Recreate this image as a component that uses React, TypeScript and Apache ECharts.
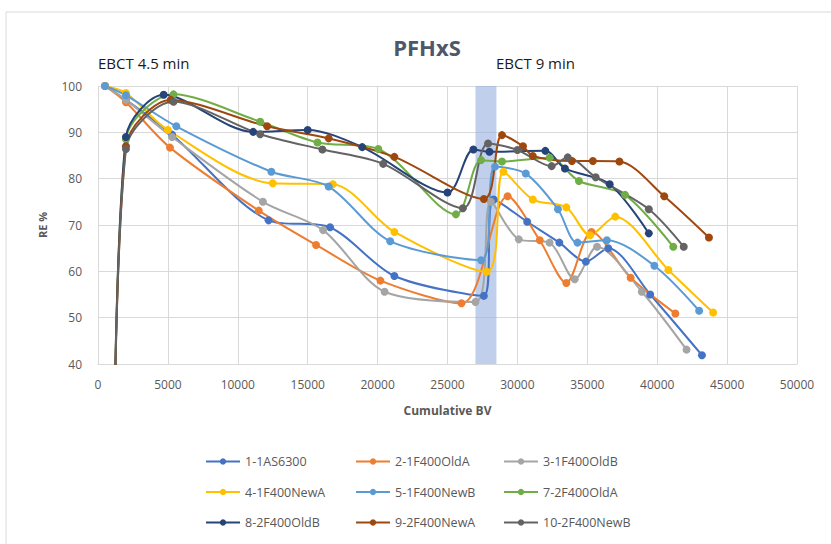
import React, { useEffect, useRef } from "react";
import * as echarts from "echarts";

const seriesNames = [
  "1-1AS6300",
  "2-1F400OldA",
  "3-1F400OldB",
  "4-1F400NewA",
  "5-1F400NewB",
  "7-2F400OldA",
  "8-2F400OldB",
  "9-2F400NewA",
  "10-2F400NewB",
];

const colors = [
  "#4472C4",
  "#ED7D31",
  "#A5A5A5",
  "#FFC000",
  "#5B9BD5",
  "#70AD47",
  "#264478",
  "#9E480E",
  "#636363",
];

const s1 = [[500,100],[2000,97],[5300,89.5],[12200,71],[16600,69.5],[21200,59],[27600,54.7],[28300,75.5],[30700,70.7],[33000,66.2],[34900,62.1],[36500,65],[39500,55],[43200,41.9]];
const s2 = [[500,100],[2000,96.5],[5150,86.7],[11500,73.1],[15600,65.7],[20200,58],[26000,53.1],[29300,76.2],[31600,66.7],[33500,57.5],[35300,68.5],[38100,58.6],[41300,50.9]];
const s3 = [[500,100],[2000,97],[5300,89],[11800,75],[16100,68.9],[20500,55.6],[27000,53.4],[28100,75],[30100,66.9],[32300,66.2],[34100,58.3],[35700,65.3],[38900,55.6],[42100,43.1]];
const s4 = [[500,100],[2000,98.5],[5000,90.5],[12500,79],[16800,78.8],[21200,68.5],[27800,59.9],[29000,81.5],[31100,75.5],[33500,73.8],[35200,67.8],[37000,71.8],[40800,60.3],[44000,51.1]];
const s5 = [[500,100],[2000,98],[5600,91.3],[12400,81.5],[16500,78.3],[20900,66.5],[27400,62.4],[28400,82.6],[30600,81.1],[32900,73.4],[34300,66.2],[36400,66.7],[39800,61.2],[43000,51.5]];
const s7 = [[1100,0],[2000,88.5],[5400,98.2],[11600,92.3],[15700,87.8],[20050,86.4],[25600,72.3],[27400,84],[28900,83.7],[32300,84.5],[34400,79.5],[37700,76.5],[41150,65.3]];
const s8 = [[1100,0],[2000,89],[4700,98.1],[11100,90.1],[15000,90.5],[18900,86.8],[25000,77],[26850,86.3],[28000,85.8],[32000,86],[33400,82.2],[36600,78.8],[39400,68.2]];
const s9 = [[1100,0],[2000,87],[5200,97],[12100,91.3],[16500,88.7],[21200,84.7],[27600,75.6],[28900,89.4],[30400,87],[31100,84.9],[33900,83.8],[35400,83.8],[37300,83.7],[40500,76.2],[43700,67.3]];
const s10 = [[1100,0],[2000,86.4],[5400,96.6],[11600,89.6],[16050,86.3],[20400,83.2],[26100,73.6],[27900,87.6],[30000,86.2],[32450,82.7],[33600,84.6],[35600,80.3],[39400,73.4],[41900,65.3]];

const seriesData = [s1, s2, s3, s4, s5, s7, s8, s9, s10];

const bandRange = [27000, 28500];

const xTicks = { min: 0, max: 50000, interval: 5000 };
const yTicks = { min: 40, max: 100, interval: 10 };

const legendColumns = [
  [0, 3, 6],
  [1, 4, 7],
  [2, 5, 8],
];

export default function App() {
  const ref = useRef<HTMLDivElement>(null);

  useEffect(() => {
    if (!ref.current) return;
    const chart = echarts.init(ref.current, null, { renderer: "svg" });
    const font = "'Open Sans', 'Liberation Sans', sans-serif";
    const legendLefts = [205, 355, 503];
    const option: any = {
      animation: false,
      backgroundColor: "#ffffff",
      textStyle: { fontFamily: font },
      title: {
        text: "PFHxS",
        left: 422,
        top: 31,
        textAlign: "center",
        textStyle: { fontSize: 22, fontWeight: "bold", color: "#4d5868", fontFamily: font },
      },
      graphic: [
        {
          type: "rect",
          shape: { x: 6, y: 12, width: 840, height: 560 },
          style: { fill: "none", stroke: "#d9d9d9", lineWidth: 1 },
          silent: true,
        },
        {
          type: "text",
          left: 98,
          top: 55,
          style: { text: "EBCT 4.5 min", fontSize: 15, fill: "#1a1a1a", fontFamily: font },
        },
        {
          type: "text",
          left: 496,
          top: 55,
          style: { text: "EBCT 9 min", fontSize: 15, fill: "#1a1a1a", fontFamily: font },
        },
      ],
      legend: legendColumns.map((col, i) => ({
        orient: "vertical",
        left: legendLefts[i],
        top: 455,
        padding: 0,
        itemGap: 17.5,
        itemWidth: 34,
        itemHeight: 8,
        data: col.map((k) => seriesNames[k]),
        textStyle: { fontSize: 12.5, color: "#595959", fontFamily: font },
      })),
      grid: { left: 98, right: 34, top: 86, bottom: 180, containLabel: false },
      xAxis: {
        type: "value",
        min: xTicks.min,
        max: xTicks.max,
        interval: xTicks.interval,
        name: "Cumulative BV",
        nameLocation: "middle",
        nameGap: 40,
        nameTextStyle: { fontSize: 12, fontWeight: "bold", color: "#595959" },
        axisLine: { show: true, lineStyle: { color: "#d9d9d9" } },
        axisTick: { show: false },
        axisLabel: { fontSize: 12, color: "#595959", margin: 14, formatter: (v: number) => String(v) },
        splitLine: { show: true, lineStyle: { color: "#d9d9d9" } },
      },
      yAxis: {
        type: "value",
        min: yTicks.min,
        max: yTicks.max,
        interval: yTicks.interval,
        name: "RE %",
        nameLocation: "middle",
        nameGap: 50,
        nameRotate: 90,
        nameTextStyle: { fontSize: 11, fontWeight: "bold", color: "#595959" },
        axisLine: { show: true, lineStyle: { color: "#d9d9d9" } },
        axisTick: { show: false },
        axisLabel: { fontSize: 12, color: "#595959", margin: 16 },
        splitLine: { show: true, lineStyle: { color: "#d9d9d9" } },
      },
      series: seriesNames.map((name, i) => ({
        name,
        type: "line",
        data: seriesData[i],
        smooth: 0.3,
        symbol: "circle",
        symbolSize: 8,
        showSymbol: true,
        clip: true,
        itemStyle: { color: colors[i] },
        lineStyle: { color: colors[i], width: 2 },
        z: 3,
        markArea:
          i === 0
            ? {
                silent: true,
                itemStyle: { color: "rgba(150,176,224,0.6)" },
                data: [[{ xAxis: bandRange[0] }, { xAxis: bandRange[1] }]],
                z: 1,
              }
            : undefined,
      })),
    };
    chart.setOption(option);
    return () => chart.dispose();
  }, []);

  return (
    <div
      ref={ref}
      style={{ position: "fixed", left: 0, top: 0, width: 831, height: 544 }}
    />
  );
}
